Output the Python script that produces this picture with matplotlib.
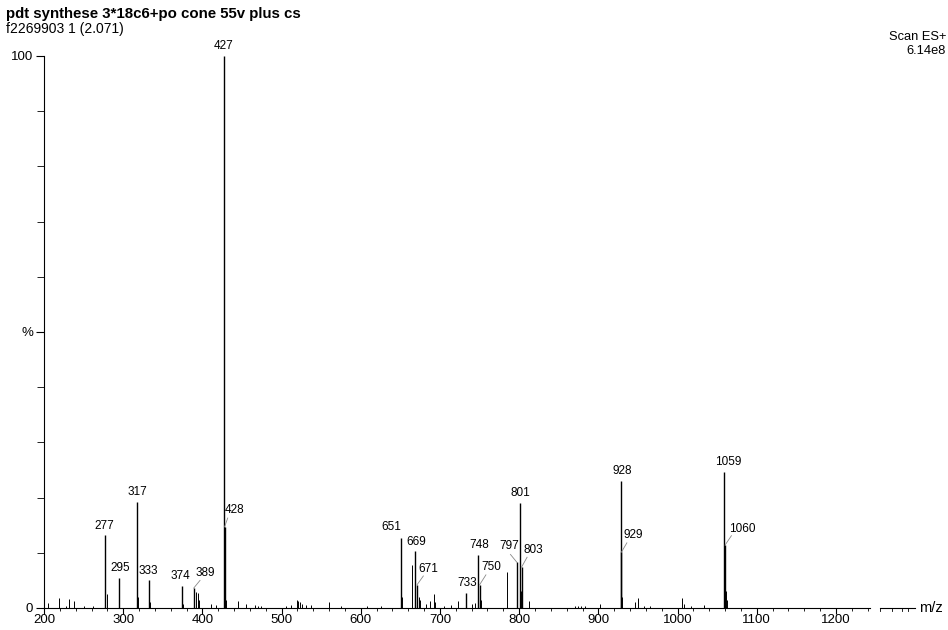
import matplotlib
matplotlib.use('Agg')
import matplotlib.pyplot as plt

plt.rcParams['font.family'] = ['Liberation Sans', 'DejaVu Sans']

#labelled peaks (m/z, relative intensity %)
peak_mz = [277, 295, 317, 333, 374, 389, 427, 428, 651, 669, 671, 733, 748, 750,
           797, 801, 803, 928, 929, 1059, 1060]
peak_int = [13.2, 5.4, 19.2, 5.1, 4.0, 3.6, 100, 14.7, 12.7, 10.3, 4.2, 2.7, 9.6, 4.2,
            8.3, 19.0, 7.4, 23.0, 10.1, 24.6, 11.4]

#unlabelled minor peaks
minor_mz = [205, 219, 228, 232, 238, 250, 262, 279, 319, 334, 376, 392, 394, 396, 411,
            417, 429, 430, 445, 455, 466, 470, 474, 505, 512, 519, 521, 523, 526, 531,
            537, 560, 575, 608, 626, 652, 665, 673, 675, 682, 688, 692, 694, 705, 714,
            723, 740, 744, 752, 785, 802, 813, 870, 874, 878, 883, 902, 930, 946, 950,
            958, 965, 1006, 1008, 1017, 1033, 1061, 1062]
minor_int = [0.9, 1.9, 0.4, 1.6, 1.2, 0.3, 0.4, 2.5, 2.0, 1.0, 0.8, 2.9, 2.8, 1.5, 0.8,
             0.5, 4.0, 1.5, 1.3, 0.7, 0.5, 0.4, 0.3, 0.4, 0.5, 1.5, 1.2, 1.0, 0.8, 0.6,
             0.5, 1.1, 0.3, 0.3, 0.4, 2.0, 7.8, 2.0, 1.5, 0.8, 1.2, 2.6, 1.0, 0.4, 0.5,
             1.2, 0.7, 0.9, 1.5, 6.5, 3.0, 1.3, 0.3, 0.4, 0.3, 0.4, 0.7, 2.0, 1.1, 1.8,
             0.4, 0.3, 1.9, 0.8, 0.4, 0.5, 3.0, 1.5]

#label text positions (m/z, %) and leader start/end
labels = [
    ('277', 276, 13.8, None),
    ('295', 296, 6.2, None),
    ('317', 318, 19.9, None),
    ('333', 332, 5.7, None),
    ('374', 372, 4.7, None),
    ('389', 404, 5.3, (389, 3.6, 397, 5.0)),
    ('427', 427, 100.8, None),
    ('428', 440, 16.6, (428, 14.7, 432, 16.3)),
    ('651', 638, 13.5, None),
    ('669', 670, 10.9, None),
    ('671', 685, 6.0, (671, 4.2, 679, 5.8)),
    ('733', 734, 3.5, None),
    ('748', 749, 10.3, None),
    ('750', 765, 6.3, (750, 4.2, 758, 6.0)),
    ('797', 787, 10.2, (797, 8.3, 789, 9.7)),
    ('801', 802, 19.7, None),
    ('803', 818, 9.5, (803, 7.4, 810, 9.2)),
    ('928', 930, 23.8, None),
    ('929', 944, 12.1, (929, 10.1, 936, 11.8)),
    ('1059', 1064, 25.4, None),
    ('1060', 1082, 13.3, (1060, 11.4, 1068, 13.1)),
]

fig = plt.figure(figsize=(9.48, 6.30), dpi=100)
ax = fig.add_axes([44/948, 22/630, 826/948, 552/630])

ax.vlines(minor_mz, 0, minor_int, color='black', linewidth=0.7)
ax.vlines(peak_mz, 0, peak_int, color='black', linewidth=1.0)

for text, x, y, lead in labels:
    ax.text(x, y, text, ha='center', va='bottom', fontsize=8.5)
    if lead is not None:
        ax.plot([lead[0], lead[2]], [lead[1], lead[3]], color='#888888', linewidth=0.6)

ax.set_xlim(200, 1243)
ax.set_ylim(0, 100)
for s in ['top', 'right']:
    ax.spines[s].set_visible(False)
ax.spines['left'].set_linewidth(0.8)
ax.spines['bottom'].set_linewidth(0.8)

ax.set_xticks(range(200, 1201, 100))
ax.set_xticks(range(200, 1243, 20), minor=True)
ax.set_yticks([0, 50, 100])
ax.set_yticklabels(['0', '%', '100'])
ax.set_yticks(range(0, 101, 10), minor=True)
ax.tick_params(axis='x', which='major', labelsize=9.5, length=4, width=0.8, pad=0.5)
ax.tick_params(axis='x', which='minor', length=2.5, width=0.6)
ax.tick_params(axis='y', which='major', labelsize=9.5, length=6, width=0.8, pad=2)
ax.tick_params(axis='y', which='minor', length=5, width=0.6)

#axis break segment and m/z label
ax.plot([1255, 1300], [0, 0], color='black', linewidth=0.8, clip_on=False)
for t in [1256, 1271, 1284, 1291]:
    ax.plot([t, t], [0, -0.6], color='black', linewidth=0.6, clip_on=False)
ax.text(1305, 0, 'm/z', ha='left', va='center', fontsize=10.5)

fig.text(6/948, 1 - 14/630, 'pdt synthese 3*18c6+po cone 55v plus cs', fontsize=10.8,
         fontweight='bold', ha='left', va='center')
fig.text(6/948, 1 - 29/630, 'f2269903 1 (2.071)', fontsize=10, ha='left', va='center')
fig.text(946/948, 1 - 37/630, 'Scan ES+', fontsize=9.3, ha='right', va='center')
fig.text(946/948, 1 - 51/630, '6.14e8', fontsize=9.3, ha='right', va='center')

fig.savefig('out.png', dpi=100)
plt.close(fig)
